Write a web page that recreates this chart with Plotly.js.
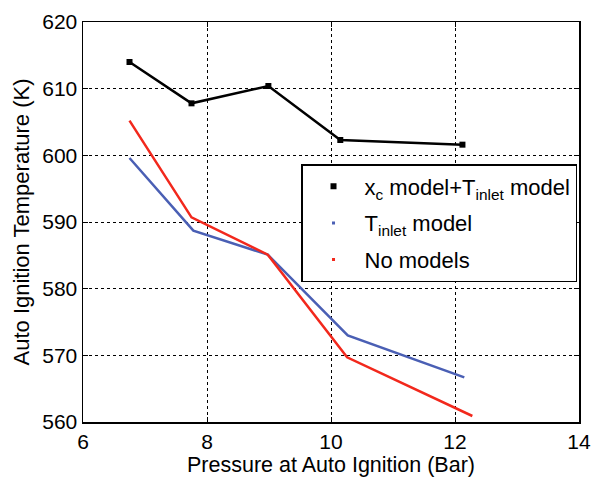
<!DOCTYPE html>
<html>
<head>
<meta charset="utf-8">
<script src="https://cdn.plot.ly/plotly-3.0.1.min.js"></script>
<style>html,body{margin:0;padding:0;background:#fff;}#chart{width:594px;height:477px;}</style>
</head>
<body>
<div id="chart"></div>
<script>
// Data
const pressureXc = [6.75, 7.75, 8.99, 10.15, 12.12];
const tempXc = [614.0, 607.8, 610.4, 602.3, 601.6];
const pressureTinlet = [6.75, 7.78, 8.98, 10.27, 12.15];
const tempTinlet = [599.6, 588.7, 585.1, 573.0, 566.7];
const pressureNone = [6.75, 7.75, 8.98, 10.26, 12.28];
const tempNone = [605.2, 590.7, 585.1, 569.7, 560.9];
const seriesNames = ["x<sub>c</sub> model+T<sub>inlet</sub> model", "T<sub>inlet</sub> model", "No models"];
const xTicks = [6, 8, 10, 12, 14];
const yTicks = [560, 570, 580, 590, 600, 610, 620];

const cBlack = '#000000', cBlue = '#4a5fb4', cRed = '#f2281c';
const font = 'Liberation Sans, Arial, sans-serif';

const traces = [
  {x: pressureXc, y: tempXc, mode: 'lines+markers', line: {color: cBlack, width: 2.5},
   marker: {symbol: 'square', size: 6, color: cBlack}, showlegend: false},
  {x: pressureTinlet, y: tempTinlet, mode: 'lines', line: {color: cBlue, width: 2.5}, showlegend: false},
  {x: pressureNone, y: tempNone, mode: 'lines', line: {color: cRed, width: 2.5}, showlegend: false},
  // legend-only entries (marker only, like the reference legend)
  {x: [null], y: [null], mode: 'markers', name: seriesNames[0], legendgroup: 'a',
   marker: {symbol: 'square', size: 6, color: cBlack}},
  {x: [null], y: [null], mode: 'markers', name: seriesNames[1], legendgroup: 'b',
   marker: {symbol: 'square', size: 3, color: cBlue}},
  {x: [null], y: [null], mode: 'markers', name: seriesNames[2], legendgroup: 'c',
   marker: {symbol: 'square', size: 3, color: cRed}}
];

const axisCommon = {
  showline: true, linecolor: '#000', linewidth: 1.5, mirror: 'ticks',
  ticks: 'inside', ticklen: 5, tickcolor: '#000', tickwidth: 1,
  showgrid: true, gridcolor: '#000', gridwidth: 1, griddash: 'dot',
  zeroline: false, tickfont: {family: font, size: 21, color: '#000'}
};

const layout = {
  width: 594, height: 477,
  margin: {l: 83, r: 15, t: 22, b: 55},
  paper_bgcolor: '#fff', plot_bgcolor: '#fff',
  font: {family: font, color: '#000'},
  xaxis: Object.assign({}, axisCommon, {
    range: [6, 14], tickvals: xTicks, ticktext: xTicks.map(String),
    title: {text: 'Pressure at Auto Ignition (Bar)', font: {family: font, size: 21.5, color: '#000'}, standoff: 3}
  }),
  yaxis: Object.assign({}, axisCommon, {
    range: [560, 620], tickvals: yTicks, ticktext: yTicks.map(String),
    title: {text: 'Auto Ignition Temperature (K)', font: {family: font, size: 22, color: '#000'}, standoff: 6}
  }),
  showlegend: true,
  legend: {
    x: 0.996, y: 0.645, xanchor: 'right', yanchor: 'top',
    bgcolor: '#fff', bordercolor: '#000', borderwidth: 1.5,
    font: {family: font, size: 22, color: '#000'},
    itemwidth: 52,
    traceorder: 'grouped', tracegroupgap: 5
  }
};

Plotly.newPlot('chart', traces, layout, {staticPlot: true, displayModeBar: false});
</script>
</body>
</html>
